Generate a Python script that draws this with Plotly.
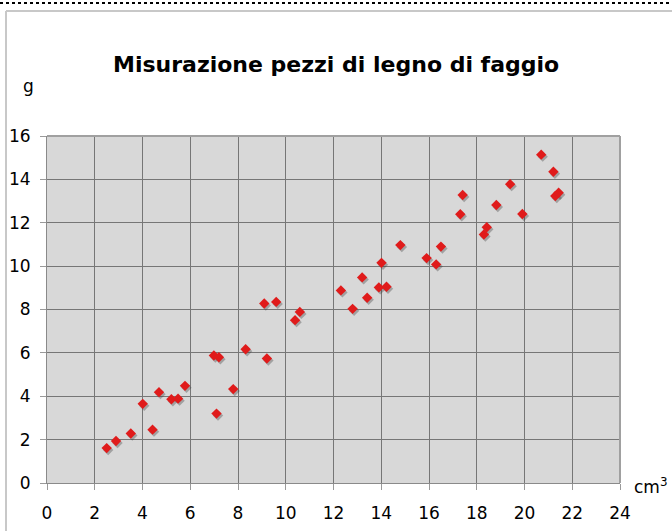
import plotly.graph_objects as go

# Volume (cm³) and mass (g) of beech wood samples
volume_cm3 = [2.50, 2.89, 3.51, 4.01, 4.42, 4.69, 5.21, 5.49, 5.78, 6.99,
              7.20, 7.10, 7.80, 8.32, 9.10, 9.21, 9.60, 10.39, 10.59, 12.31,
              12.80, 13.20, 13.41, 13.90, 14.01, 14.22, 14.80, 15.90, 16.30, 16.50,
              17.31, 17.41, 18.30, 18.42, 18.82, 19.40, 19.91, 20.70, 21.21, 21.29,
              21.43]
mass_g = [1.61, 1.94, 2.28, 3.65, 2.46, 4.19, 3.86, 3.89, 4.48, 5.88,
          5.80, 3.20, 4.33, 6.17, 8.28, 5.74, 8.35, 7.51, 7.89, 8.88,
          8.03, 9.48, 8.54, 9.02, 10.15, 9.05, 10.97, 10.37, 10.08, 10.90,
          12.39, 13.28, 11.46, 11.79, 12.82, 13.78, 12.40, 15.14, 14.35, 13.23,
          13.38]

x_ticks = [0, 2, 4, 6, 8, 10, 12, 14, 16, 18, 20, 22, 24]
y_ticks = [0, 2, 4, 6, 8, 10, 12, 14, 16]

title_text = "Misurazione pezzi di legno di faggio"
y_unit = "g"
x_unit = "cm<sup>3</sup>"

W, H = 672, 531
L, R, T, B = 47, 52, 136, 48
plot_w, plot_h = W - L - R, H - T - B
x_range = [0, 24]
y_range = [0, 16]

# small drop shadow under each marker (offset by a couple of pixels)
sx = 1.5 * (x_range[1] - x_range[0]) / plot_w
sy = 2.0 * (y_range[1] - y_range[0]) / plot_h

FONT = "DejaVu Sans"

fig = go.Figure()
fig.add_trace(go.Scatter(
    x=[v + sx for v in volume_cm3], y=[m - sy for m in mass_g],
    mode="markers", hoverinfo="skip",
    marker=dict(symbol="diamond", size=8, color="rgba(60,60,60,0.35)", line=dict(width=0)),
))
fig.add_trace(go.Scatter(
    x=volume_cm3, y=mass_g, mode="markers",
    marker=dict(symbol="diamond", size=8, color="#e01b1b", line=dict(width=0)),
))


def px_x(p):
    return (p - L) / plot_w


def px_y(p):
    return (H - B - p) / plot_h


shapes = [
    # dotted rule at the very top
    dict(type="line", xref="paper", yref="paper", x0=px_x(0), x1=px_x(W),
         y0=px_y(3), y1=px_y(3), line=dict(color="black", width=2, dash="dot")),
    # light frame around the chart
    dict(type="line", xref="paper", yref="paper", x0=px_x(6), x1=px_x(6),
         y0=px_y(H + 5), y1=px_y(11), line=dict(color="#c8c8c8", width=2)),
    dict(type="line", xref="paper", yref="paper", x0=px_x(6), x1=px_x(W + 5),
         y0=px_y(11), y1=px_y(11), line=dict(color="#c8c8c8", width=2)),
    # plot area border (top and right)
    dict(type="line", xref="paper", yref="paper", x0=0, x1=1, y0=1, y1=1,
         line=dict(color="#a0a0a0", width=2)),
    dict(type="line", xref="paper", yref="paper", x0=1, x1=1, y0=0, y1=1,
         line=dict(color="#a0a0a0", width=2)),
]

annotations = [
    dict(text=f"<b>{title_text}</b>", xref="paper", yref="paper",
         x=px_x(336), y=px_y(65), xanchor="center", yanchor="middle",
         showarrow=False, font=dict(family=FONT, size=22, color="black")),
    dict(text=y_unit, xref="paper", yref="paper",
         x=px_x(28), y=px_y(86), xanchor="center", yanchor="middle",
         showarrow=False, font=dict(family=FONT, size=17, color="black")),
    dict(text=x_unit, xref="paper", yref="paper",
         x=px_x(632), y=px_y(486), xanchor="left", yanchor="middle",
         showarrow=False, font=dict(family=FONT, size=17, color="black")),
]

fig.update_layout(
    width=W, height=H,
    margin=dict(l=L, r=R, t=T, b=B, pad=0, autoexpand=False),
    paper_bgcolor="white",
    plot_bgcolor="#d8d8d8",
    showlegend=False,
    shapes=shapes,
    annotations=annotations,
    font=dict(family=FONT, size=17, color="black"),
)
fig.update_xaxes(
    range=x_range, tickvals=x_ticks, ticktext=[str(v) for v in x_ticks],
    showgrid=True, gridcolor="#767676", gridwidth=1,
    showline=True, linecolor="#8a8a8a", linewidth=1,
    ticks="outside", ticklen=6, tickcolor="#9a9a9a", ticklabelstandoff=9,
    zeroline=False, fixedrange=True, automargin=False,
)
fig.update_yaxes(
    range=y_range, tickvals=y_ticks, ticktext=[str(v) for v in y_ticks],
    showgrid=True, gridcolor="#767676", gridwidth=1,
    showline=True, linecolor="#8a8a8a", linewidth=1,
    ticks="outside", ticklen=6, tickcolor="#9a9a9a", ticklabelstandoff=6,
    zeroline=False, fixedrange=True, automargin=False,
)

fig.write_html("out.html", config={"displayModeBar": False})
